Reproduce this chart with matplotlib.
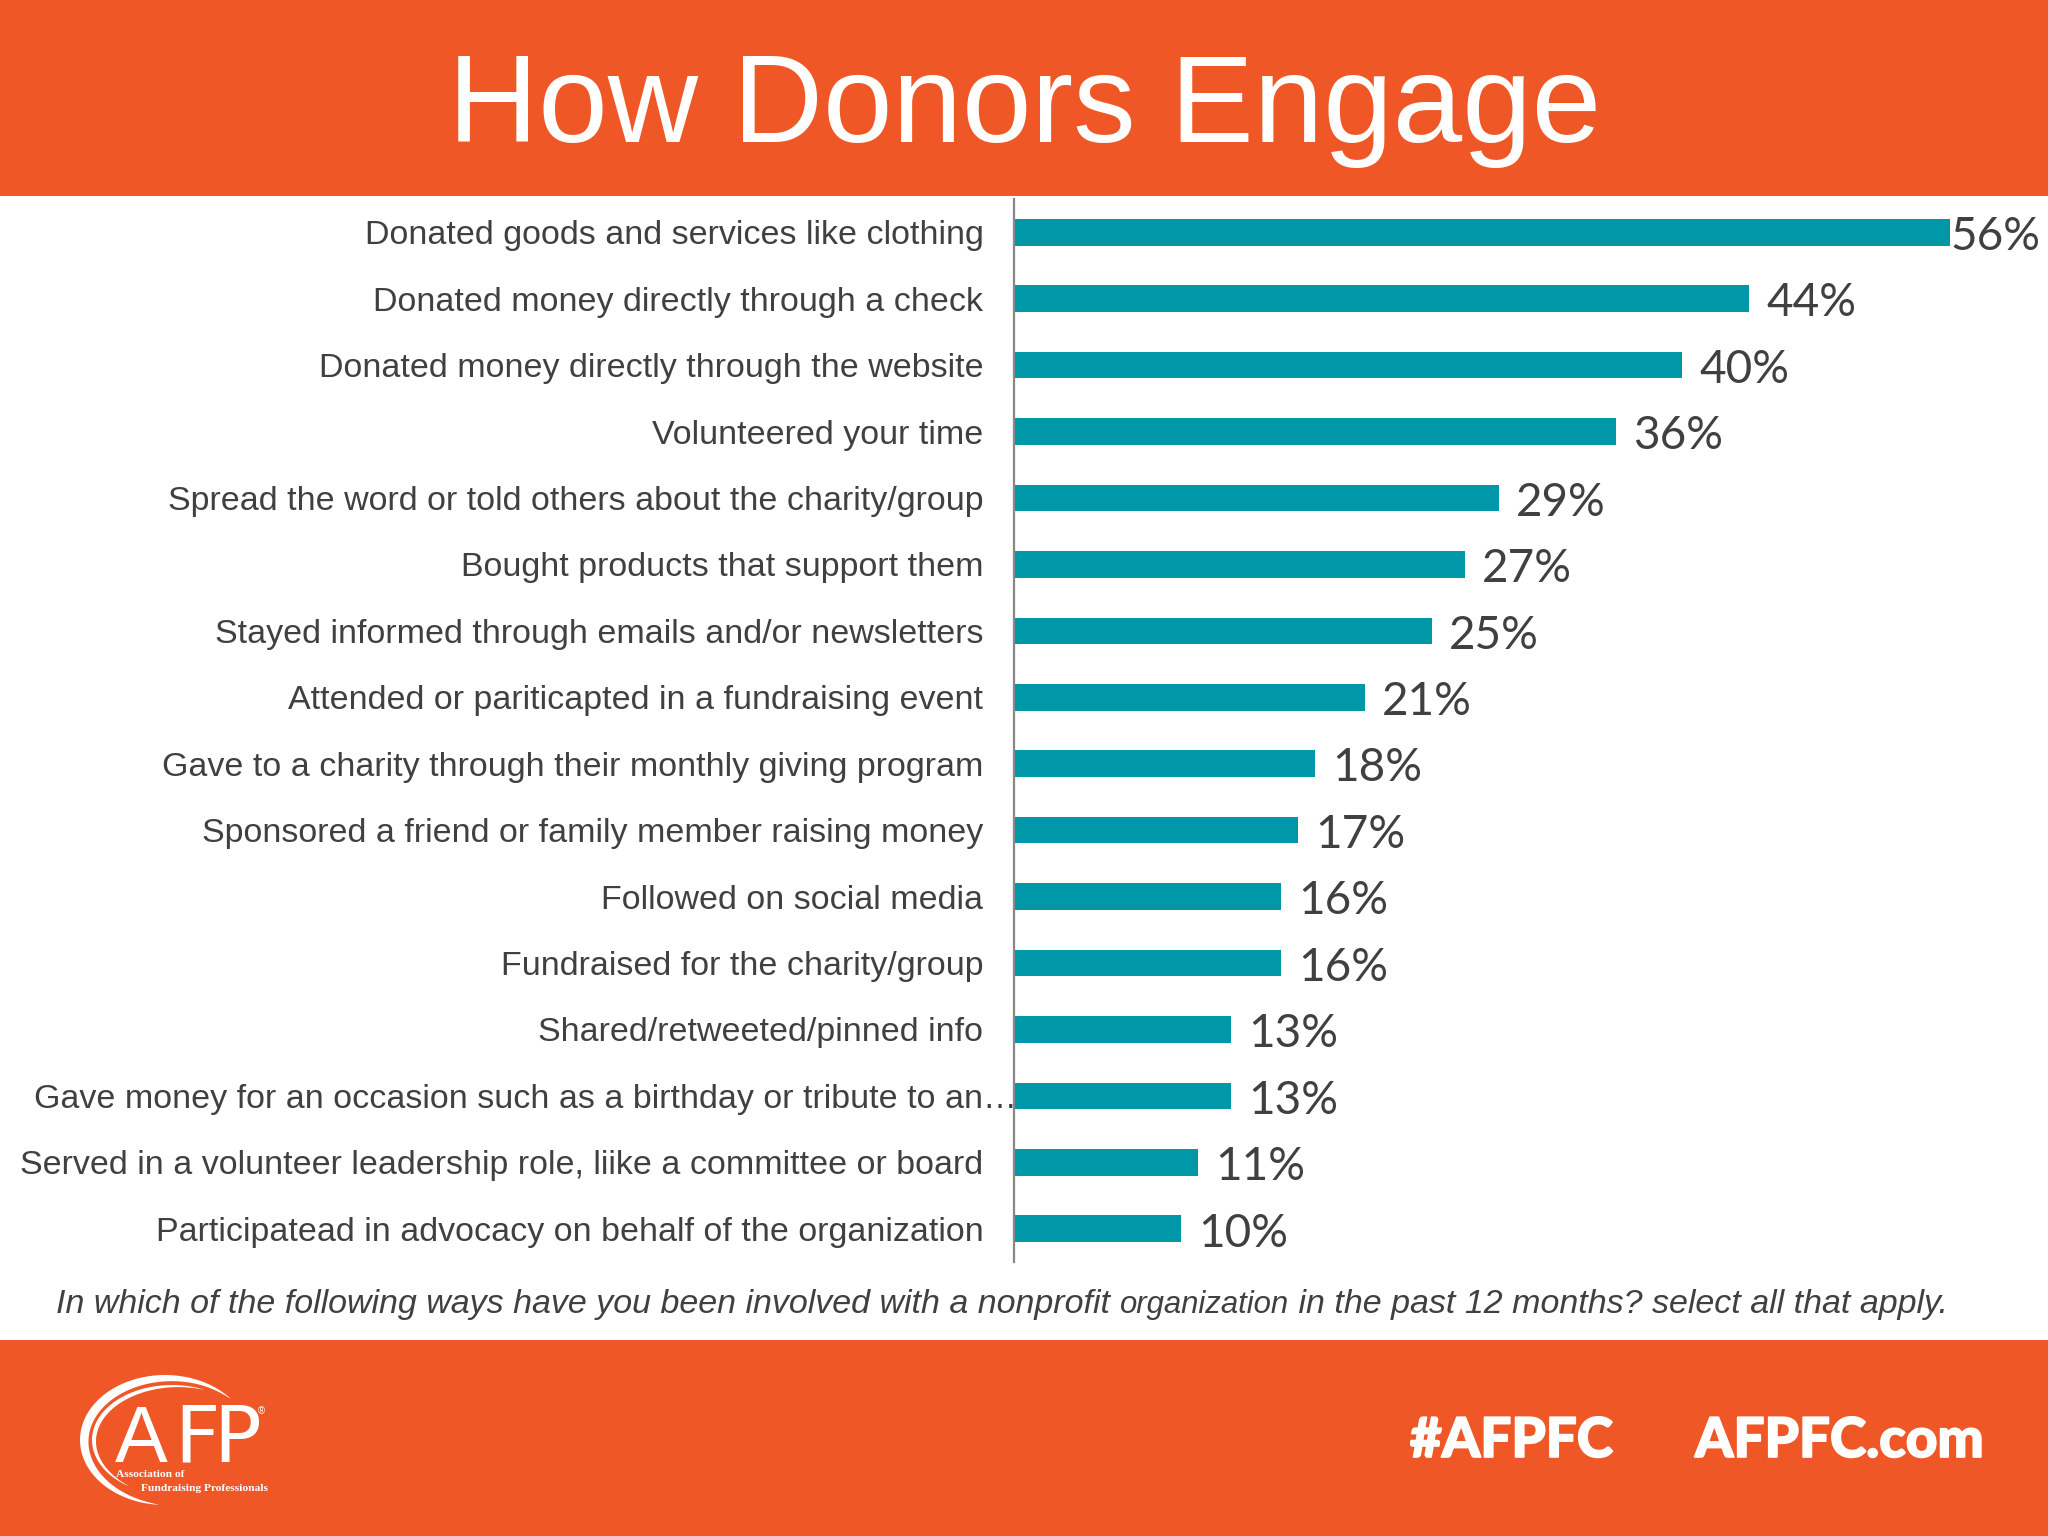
import numpy as np
import matplotlib
matplotlib.use('Agg')
import matplotlib.pyplot as plt
import matplotlib.patheffects as pe

categories = [
    'Donated goods and services like clothing',
    'Donated money directly through a check',
    'Donated money directly through the website',
    'Volunteered your time',
    'Spread the word or told others about the charity/group',
    'Bought products that support them',
    'Stayed informed through emails and/or newsletters',
    'Attended or pariticapted in a fundraising event',
    'Gave to a charity through their monthly giving program',
    'Sponsored a friend or family member raising money',
    'Followed on social media',
    'Fundraised for the charity/group',
    'Shared/retweeted/pinned info',
    'Gave money for an occasion such as a birthday or tribute to an\u2026',
    'Served in a volunteer leadership role, liike a committee or board',
    'Participatead in advocacy on behalf of the organization',
]
values = [56, 44, 40, 36, 29, 27, 25, 21, 18, 17, 16, 16, 13, 13, 11, 10]

title = 'How Donors Engage'
caption_parts = [
    'In which of the following ways have you been involved with a nonprofit ',
    'organization',
    ' in the past 12 months? select all that apply.',
]

ORANGE = '#EF5726'
TEAL = '#0097A9'
GREY = '#404040'
W, H = 2048, 1536

fig = plt.figure(figsize=(W / 100, H / 100), dpi=100, facecolor='white')

# pixel overlay for the slide furniture
bg = fig.add_axes([0, 0, 1, 1])
bg.set_xlim(0, W)
bg.set_ylim(H, 0)
bg.axis('off')
bg.axhspan(0, 196, color=ORANGE, lw=0)
bg.axhspan(1340, H, color=ORANGE, lw=0)

bg.text(1025, 110, title, color='white', fontsize=90, family='Liberation Sans',
        ha='center', va='center')


def swoosh(cx, cy, rx, ry, t0, t1, wmax):
    # tapered crescent along an ellipse, angles in degrees
    t = np.radians(np.linspace(t0, t1, 80))
    w = wmax * np.sin(np.linspace(0, np.pi, 80)) ** 0.8
    xo = cx + rx * np.cos(t)
    yo = cy - ry * np.sin(t)
    xi = cx + (rx - w) * np.cos(t)
    yi = cy - (ry - w) * np.sin(t)
    bg.fill(np.r_[xo, xi[::-1]], np.r_[yo, yi[::-1]], color='white', lw=0)


# AFP logo
swoosh(165, 1440, 85, 65, 39, 266, 9)
swoosh(172, 1440, 80, 55, 66, 238, 4.5)
bg.text(115, 1462, 'A', color='white', fontsize=57, family='Liberation Sans',
        ha='left', va='baseline')
bg.text(174, 1462, 'F', color='white', fontsize=57, family='Liberation Sans Narrow',
        ha='left', va='baseline')
bg.text(213, 1462, 'P', color='white', fontsize=57, family='Liberation Sans Narrow',
        ha='left', va='baseline')
bg.text(258, 1414, '\u00ae', color='white', fontsize=7, family='Liberation Sans',
        ha='left', va='baseline')
bg.text(116, 1477, 'Association of', color='white', fontsize=8.2, fontweight='bold',
        family='Liberation Serif', ha='left', va='baseline')
bg.text(141, 1491, 'Fundraising Professionals', color='white', fontsize=8.2,
        fontweight='bold', family='Liberation Serif', ha='left', va='baseline')

# footer tags
heavy = [pe.withStroke(linewidth=1.2, foreground='white')]
bg.text(1410, 1457, '#AFPFC', color='white', fontsize=39.5, fontweight='black',
        family='Lato', ha='left', va='baseline', path_effects=heavy)
bg.text(1695, 1457, 'AFPFC.com', color='white', fontsize=39.5, fontweight='black',
        family='Lato', ha='left', va='baseline', path_effects=heavy)

# caption, middle bit is a touch smaller in the original
renderer = fig.canvas.get_renderer()
x = 56
for part, size in zip(caption_parts, [24.5, 22.4, 24.5]):
    t = bg.text(x, 1313, part.replace(' ', '\u00a0'), color=GREY, fontsize=size, style='italic',
                family='Liberation Sans', ha='left', va='baseline')
    x += t.get_window_extent(renderer).width

# chart
ax = fig.add_axes([1014 / W, 1 - 1262 / H, (W - 1014) / W, (1262 - 199) / H])
ax.patch.set_alpha(0)
y = np.arange(len(categories))
bars = ax.barh(y, values, height=0.4, color=TEAL)
ax.set_xlim(0, (W - 1014) / 16.71)
ax.set_ylim(len(categories) - 0.5, -0.5)
ax.xaxis.set_visible(False)
for side in ['top', 'right', 'bottom']:
    ax.spines[side].set_visible(False)
ax.spines['left'].set_color('#888888')
ax.spines['left'].set_linewidth(1.6)

ax.set_yticks(y, categories, family='Liberation Sans', fontsize=24.45, color=GREY)
ax.tick_params(axis='y', length=0, pad=22)
# the truncated label runs right up to the axis
ax.yaxis.get_major_ticks()[13].set_pad(-2)

for bar, v in zip(bars, values):
    pad = 0.5 if v == max(values) else 12.3
    ax.annotate(f'{v}%', (v, bar.get_y() + bar.get_height() / 2), xytext=(pad, -3.4),
                textcoords='offset points', family='Lato', fontsize=33, color=GREY,
                ha='left', va='center')

fig.savefig('out.png', dpi=100)
